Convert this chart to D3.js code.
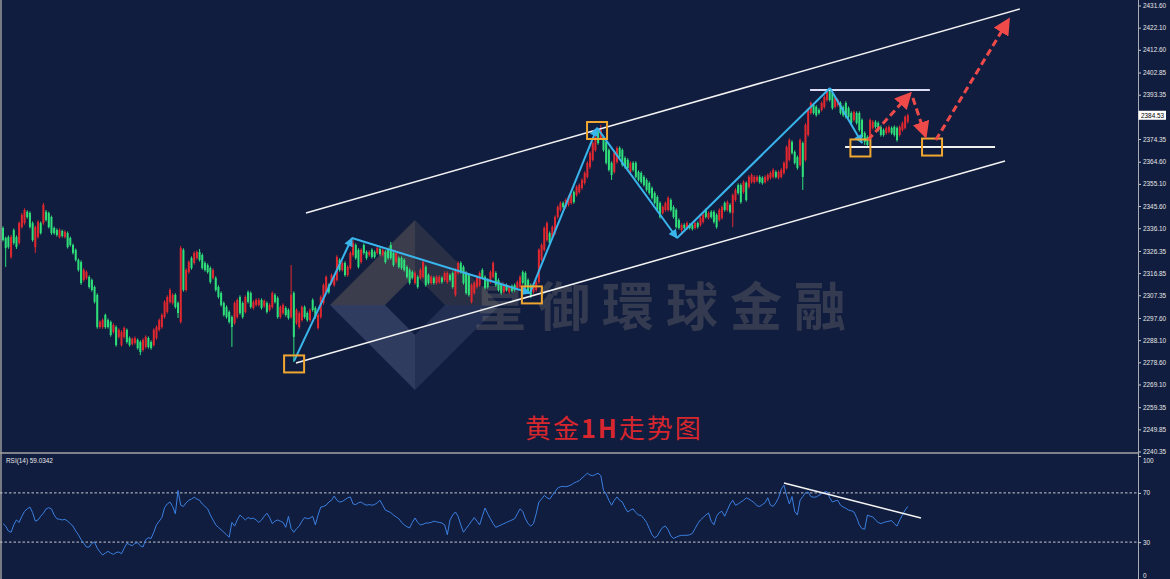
<!DOCTYPE html>
<html><head><meta charset="utf-8">
<script src="https://cdn.jsdelivr.net/npm/d3@7"></script>
<style>
html,body{margin:0;padding:0;background:#111d3f;overflow:hidden}
svg{display:block}
</style></head><body>
<svg id="c" width="1170" height="579"></svg>
<script>
// ---------------- DATA ----------------
const open = [
2336.2,2331.9,2332.3,2323.8,2335.3,2332.3,2329.8,2336.6,2338.3,2343.1,
2342.6,2338.3,2328.0,2332.3,2338.3,2338.3,2343.1,2342.6,2340.9,2336.2,
2335.3,2332.3,2334.9,2332.3,2334.0,2331.9,2328.9,2326.8,2322.5,2321.6,
2313.9,2314.8,2315.2,2313.9,2310.9,2307.5,2293.7,2293.7,2298.9,2296.7,
2295.9,2291.6,2293.7,2289.5,2286.0,2289.5,2292.5,2289.0,2286.5,2286.9,
2288.2,2287.3,2283.9,2285.2,2289.0,2287.3,2286.0,2289.0,2292.5,2293.7,
2298.0,2300.2,2304.5,2304.0,2307.5,2304.0,2295.9,2326.8,2309.6,2317.3,
2323.3,2321.2,2323.3,2325.9,2324.6,2321.2,2320.3,2319.0,2314.8,2314.8,
2310.9,2308.3,2304.0,2302.3,2300.2,2298.0,2295.4,2298.0,2306.6,2304.0,
2300.2,2308.7,2308.3,2301.9,2303.2,2303.2,2305.3,2302.7,2304.0,2301.0,
2302.3,2307.5,2306.2,2298.0,2299.7,2301.9,2301.0,2298.0,2308.3,2295.4,
2293.7,2296.7,2302.3,2299.7,2296.7,2305.3,2301.9,2293.3,2298.0,2304.0,
2308.7,2311.7,2312.6,2311.7,2313.9,2322.5,2318.2,2321.2,2316.0,2319.0,
2324.6,2328.9,2326.8,2321.6,2328.9,2325.9,2324.6,2326.8,2325.9,2325.5,
2327.2,2324.6,2325.9,2326.8,2328.9,2325.5,2321.6,2323.3,2323.3,2322.5,
2319.5,2318.2,2317.3,2312.6,2315.2,2314.8,2315.2,2319.5,2316.0,2312.6,
2314.8,2312.6,2313.0,2314.8,2313.9,2313.0,2316.0,2316.9,2307.5,2316.9,
2321.2,2319.5,2316.9,2316.0,2304.5,2308.3,2310.9,2311.7,2318.2,2315.2,
2313.9,2313.0,2315.2,2316.9,2313.9,2311.7,2308.7,2311.7,2308.7,2311.3,
2311.7,2310.5,2310.9,2317.3,2316.9,2313.9,2311.7,2308.7,2309.6,2313.0,
2322.5,2326.8,2331.0,2334.0,2332.3,2334.0,2340.9,2343.9,2346.9,2345.2,
2346.1,2346.9,2351.6,2350.3,2351.6,2353.3,2355.5,2358.1,2362.3,2365.4,
2369.6,2377.4,2374.8,2375.2,2373.1,2369.6,2364.1,2360.2,2364.5,2370.5,
2369.6,2366.2,2365.4,2360.2,2364.1,2364.1,2360.2,2359.8,2358.1,2356.8,
2355.5,2353.3,2351.2,2349.5,2346.9,2342.6,2343.9,2343.9,2348.2,2345.2,
2343.9,2339.6,2335.3,2337.5,2336.2,2337.5,2337.5,2336.2,2338.3,2337.5,
2338.8,2343.9,2340.5,2343.1,2343.1,2341.8,2339.6,2340.5,2346.9,2343.9,
2346.1,2342.6,2348.2,2354.6,2354.6,2351.6,2355.5,2353.8,2355.9,2355.9,
2356.4,2358.1,2357.7,2355.9,2356.8,2357.7,2358.1,2360.2,2357.7,2358.1,
2359.8,2361.9,2365.4,2373.1,2368.8,2366.6,2363.2,2372.6,2365.4,2376.1,
2385.5,2388.9,2388.1,2386.8,2386.8,2388.1,2391.1,2395.4,2394.1,2388.1,
2388.9,2389.8,2388.1,2389.8,2387.6,2385.5,2382.5,2385.5,2385.5,2382.5,
2376.9,2375.2,2375.2,2379.1,2381.7,2381.2,2379.5,2378.2,2376.9,2377.4,
2379.1,2379.5,2379.1,2376.1,2378.2,2379.1,2381.7];
const high = [
2336.9,2332.5,2333.0,2333.2,2336.0,2333.0,2339.0,2342.6,2344.6,2343.8,
2343.3,2339.0,2337.3,2339.5,2339.0,2346.9,2343.9,2343.2,2341.5,2336.8,
2336.0,2336.0,2335.5,2335.2,2334.7,2332.5,2329.5,2327.4,2323.1,2322.3,
2318.9,2318.0,2315.9,2314.5,2311.5,2308.2,2296.6,2297.4,2299.5,2297.4,
2296.5,2295.3,2294.4,2293.2,2292.3,2294.0,2293.1,2289.7,2289.3,2289.7,
2288.8,2288.0,2288.9,2290.2,2289.7,2288.0,2293.2,2294.4,2297.4,2299.6,
2305.2,2307.3,2310.3,2308.2,2308.2,2304.7,2328.5,2327.5,2318.9,2322.3,
2324.0,2326.2,2326.6,2327.2,2325.3,2321.9,2321.0,2319.7,2318.9,2315.5,
2311.6,2309.0,2304.7,2303.0,2300.9,2298.7,2304.7,2306.0,2307.3,2304.7,
2307.3,2309.4,2309.0,2305.2,2306.0,2306.1,2306.0,2305.6,2304.7,2303.9,
2309.0,2308.2,2306.9,2303.0,2303.9,2302.6,2301.7,2320.3,2309.0,2301.7,
2300.4,2303.0,2303.0,2300.4,2301.7,2306.0,2302.6,2299.6,2307.3,2312.4,
2315.9,2312.4,2316.7,2315.9,2324.5,2323.2,2321.9,2321.9,2320.2,2326.2,
2331.0,2329.6,2327.5,2327.5,2329.6,2326.6,2326.6,2327.5,2326.6,2328.3,
2327.9,2327.5,2326.6,2327.5,2330.2,2326.2,2326.2,2324.0,2324.0,2323.2,
2320.2,2318.9,2318.0,2317.6,2315.9,2318.9,2322.9,2320.2,2316.7,2315.9,
2315.5,2315.9,2315.9,2315.5,2317.6,2317.6,2316.7,2317.6,2318.9,2321.9,
2321.9,2320.2,2317.6,2316.7,2312.4,2313.3,2315.9,2317.6,2318.9,2315.9,
2314.6,2318.0,2321.9,2317.6,2314.6,2312.4,2312.4,2312.4,2311.6,2312.0,
2312.4,2313.7,2315.9,2318.0,2317.6,2314.6,2312.4,2311.6,2313.7,2327.5,
2329.6,2336.9,2339.0,2334.7,2337.3,2341.6,2345.9,2347.6,2347.6,2348.9,
2350.2,2351.0,2352.3,2354.5,2355.3,2357.5,2360.5,2364.8,2369.1,2373.3,
2375.9,2378.1,2380.4,2375.9,2373.8,2370.3,2364.8,2369.1,2371.2,2371.2,
2370.3,2366.9,2366.1,2364.8,2364.8,2364.8,2360.9,2360.5,2358.8,2357.5,
2356.2,2354.0,2351.9,2350.2,2347.6,2345.9,2347.6,2349.8,2348.9,2345.9,
2344.6,2340.3,2338.2,2338.2,2339.0,2338.2,2338.2,2339.0,2339.0,2341.2,
2342.5,2344.6,2343.3,2343.8,2343.8,2342.5,2344.6,2345.9,2347.6,2348.0,
2346.8,2351.0,2353.2,2355.3,2355.3,2356.6,2356.2,2358.8,2359.6,2358.8,
2358.8,2358.8,2358.4,2358.8,2359.6,2360.5,2361.8,2360.9,2360.9,2361.8,
2364.8,2371.6,2374.6,2373.8,2369.5,2367.3,2374.6,2373.3,2381.1,2387.5,
2390.5,2389.6,2388.8,2387.5,2390.5,2393.1,2395.2,2396.2,2394.8,2392.6,
2391.8,2390.5,2388.8,2390.5,2388.3,2386.2,2386.6,2386.2,2386.2,2383.2,
2377.6,2375.9,2383.2,2382.4,2382.4,2381.9,2380.2,2378.9,2379.8,2380.2,
2379.8,2380.2,2379.8,2380.2,2381.9,2384.5,2385.2];
const low = [
2330.4,2319.5,2327.3,2323.0,2329.0,2327.2,2329.0,2336.0,2337.6,2340.2,
2336.0,2330.3,2325.5,2331.6,2333.4,2337.6,2339.0,2336.0,2333.3,2333.3,
2332.5,2331.7,2332.1,2331.7,2327.4,2328.2,2324.8,2321.8,2317.5,2311.8,
2313.2,2314.1,2310.2,2308.9,2303.8,2293.0,2293.0,2293.0,2293.0,2293.1,
2289.6,2290.9,2285.3,2288.8,2285.3,2288.8,2286.6,2285.3,2285.8,2286.2,
2284.0,2281.7,2283.2,2284.5,2284.5,2284.0,2285.3,2288.3,2291.8,2293.0,
2297.3,2299.5,2303.8,2303.3,2301.6,2297.6,2295.2,2308.9,2308.9,2316.6,
2318.3,2320.5,2322.6,2321.8,2318.3,2317.5,2316.6,2312.3,2314.1,2308.9,
2305.9,2302.5,2298.2,2297.3,2295.2,2285.2,2294.7,2297.3,2299.0,2297.3,
2299.5,2303.8,2301.6,2301.2,2302.5,2302.6,2301.2,2302.0,2299.5,2300.3,
2301.6,2303.8,2297.3,2297.3,2299.0,2298.2,2296.9,2297.3,2278.7,2294.7,
2293.0,2296.0,2297.3,2296.0,2296.0,2300.3,2297.3,2292.6,2297.3,2303.3,
2308.0,2308.0,2311.9,2311.0,2313.2,2317.5,2317.5,2315.3,2315.3,2318.3,
2323.9,2322.6,2318.8,2320.9,2324.8,2322.6,2323.9,2323.1,2323.1,2324.8,
2324.3,2323.9,2320.9,2322.6,2322.6,2319.6,2320.9,2318.8,2318.3,2317.5,
2314.5,2311.9,2314.1,2311.9,2310.2,2314.1,2314.5,2311.0,2311.9,2311.9,
2311.9,2311.9,2312.3,2312.3,2313.2,2312.3,2313.2,2310.2,2306.8,2316.2,
2316.6,2311.9,2307.6,2306.8,2303.8,2307.6,2310.2,2311.0,2314.1,2309.8,
2310.2,2312.3,2314.5,2311.0,2308.9,2307.6,2308.0,2308.9,2308.0,2308.5,
2308.9,2309.8,2310.2,2311.9,2310.2,2308.0,2306.2,2308.0,2308.9,2312.3,
2321.8,2326.1,2330.3,2329.1,2331.6,2333.3,2340.2,2343.2,2344.5,2344.5,
2345.4,2346.2,2346.6,2349.6,2350.9,2352.6,2354.8,2357.4,2361.6,2364.7,
2368.9,2371.9,2374.1,2368.9,2363.4,2360.4,2356.8,2359.5,2363.8,2365.9,
2362.5,2361.6,2361.2,2359.5,2360.4,2357.4,2356.1,2355.2,2353.9,2351.8,
2350.5,2348.4,2346.2,2343.2,2340.2,2341.9,2343.2,2343.2,2343.2,2340.2,
2335.9,2335.5,2333.2,2335.5,2335.5,2335.5,2335.1,2335.5,2335.9,2336.8,
2338.1,2340.2,2339.8,2340.2,2338.1,2335.9,2338.9,2339.8,2343.2,2343.2,
2342.4,2336.6,2347.5,2350.5,2346.6,2350.9,2347.5,2353.1,2355.2,2355.2,
2355.7,2355.2,2354.8,2355.2,2356.1,2357.0,2357.4,2357.4,2357.0,2357.4,
2359.1,2361.2,2364.7,2367.7,2363.4,2361.2,2362.5,2352.5,2364.7,2375.4,
2384.8,2384.8,2383.9,2384.8,2386.1,2387.4,2390.4,2390.4,2386.9,2387.4,
2388.2,2384.8,2383.9,2383.1,2383.1,2380.5,2381.8,2380.5,2377.5,2374.5,
2371.8,2371.1,2374.5,2378.4,2378.8,2377.5,2375.4,2375.4,2376.2,2376.7,
2376.2,2375.4,2373.2,2375.4,2377.5,2378.4,2381.0];
const close = [
2331.0,2327.6,2328.0,2332.3,2329.8,2328.0,2338.3,2341.8,2343.9,2340.9,
2336.6,2331.0,2336.6,2338.8,2334.0,2346.1,2339.6,2336.6,2334.0,2334.0,
2333.2,2335.3,2332.8,2334.5,2328.0,2328.9,2325.5,2322.5,2318.2,2312.6,
2318.2,2317.3,2310.9,2309.6,2304.5,2293.7,2295.9,2296.7,2293.7,2293.7,
2290.3,2294.6,2286.0,2292.5,2291.6,2293.3,2287.3,2286.0,2288.6,2289.0,
2284.7,2283.0,2288.2,2289.5,2285.2,2284.7,2292.5,2293.7,2296.7,2298.9,
2304.5,2306.6,2309.6,2307.5,2302.3,2299.7,2327.6,2309.6,2318.2,2321.6,
2319.0,2325.5,2325.9,2322.5,2319.0,2318.2,2317.3,2313.0,2318.2,2309.6,
2306.6,2303.2,2298.9,2298.0,2295.9,2293.7,2304.0,2305.3,2299.7,2298.0,
2306.6,2304.5,2302.3,2304.5,2305.3,2305.3,2301.9,2304.9,2300.2,2303.2,
2308.3,2304.5,2298.0,2302.3,2303.2,2298.9,2297.6,2307.5,2289.5,2301.0,
2299.7,2302.3,2298.0,2296.7,2301.0,2301.0,2298.0,2298.9,2306.6,2311.7,
2315.2,2308.7,2316.0,2315.2,2323.8,2318.2,2321.2,2316.0,2319.5,2325.5,
2329.8,2323.3,2319.5,2326.8,2325.5,2323.3,2325.9,2323.8,2323.8,2327.6,
2325.0,2326.8,2321.6,2323.3,2323.3,2320.3,2325.5,2319.5,2319.0,2318.2,
2315.2,2312.6,2314.8,2316.9,2310.9,2318.2,2321.6,2311.7,2312.6,2315.2,
2312.6,2315.2,2315.2,2313.0,2316.9,2316.9,2313.9,2310.9,2318.2,2321.2,
2317.3,2312.6,2308.3,2307.5,2311.7,2312.6,2315.2,2316.9,2314.8,2310.5,
2310.9,2317.3,2321.2,2311.7,2309.6,2308.3,2311.7,2309.6,2310.9,2309.2,
2309.6,2313.0,2315.2,2312.6,2310.9,2308.7,2307.5,2310.9,2313.0,2326.8,
2328.9,2336.2,2338.3,2329.8,2336.6,2340.9,2345.2,2346.9,2345.2,2348.2,
2349.5,2350.3,2347.3,2353.8,2354.6,2356.8,2359.8,2364.1,2368.4,2372.6,
2375.2,2372.6,2378.2,2369.6,2364.1,2361.1,2358.9,2368.4,2370.5,2366.6,
2363.2,2362.3,2361.9,2364.1,2361.1,2358.1,2356.8,2355.9,2354.6,2352.5,
2351.2,2349.1,2346.9,2343.9,2340.9,2345.2,2346.9,2349.1,2343.9,2340.9,
2336.6,2336.2,2337.5,2336.2,2338.3,2336.2,2335.8,2338.3,2336.6,2340.5,
2341.8,2340.9,2342.6,2340.9,2338.8,2336.6,2343.9,2345.2,2343.9,2347.3,
2343.1,2350.3,2352.5,2351.2,2347.3,2355.9,2348.2,2358.1,2358.9,2358.1,
2358.1,2355.9,2355.5,2358.1,2358.9,2359.8,2361.1,2358.1,2360.2,2361.1,
2364.1,2370.9,2373.9,2368.4,2364.1,2361.9,2373.9,2358.1,2380.4,2386.8,
2389.8,2385.5,2384.6,2385.5,2389.8,2392.4,2394.5,2391.1,2387.6,2391.9,
2391.1,2385.5,2384.6,2383.8,2383.8,2381.2,2385.9,2381.2,2378.2,2375.2,
2373.1,2371.8,2382.5,2381.7,2379.5,2378.2,2376.1,2376.1,2379.1,2379.5,
2376.9,2376.1,2373.9,2379.5,2381.2,2383.8,2384.53];
const rsi = [
45,43,39,38,44,48,46,51,55,57,
58.5,54,47,48,51,53.5,57,58,57,52,
49,48.5,48,48.5,47,45,43,39,36,32,
29,26,26,29,30,25,22,19.5,21,22.5,
21,20,21.5,22,20.5,25,29,28,27,29,
29.5,27,26,32,33.5,33,38,44,47,50,
58,61,62.6,59,53,72,60,59,62,64,
65,66.5,65,64,61,59,57,52,48,44,
42,40,38,36,34,46,43,48,52,50,
48,50,49,49.5,48,46,48,51,53.5,50,
45,47,48,47,46,42,51,41,38,41,
43,47,50,49,49.5,51,44,52,58.5,59,
60,62.6,64,67.5,64,62.6,63,64.5,66,66.7,
61,60.5,62,62.6,61,60,60.5,60,60.5,62,
64,60,56,55,54,52,50.5,49,46,44,
42.5,41.5,46,49.6,46,44,44.5,45.5,45.5,46,
47,46.5,46,45.5,44,36,48,52,54.5,51,
44,38,41,44,47,50,47,44,51,57.7,
53,49,45,42,43,44,45,46,47,48,
49,53,57,55,49,45,43,45,53,62.6,
65,68,66,65,68,71,74,75,75.3,75,
75.6,76.5,78,79,80,82,84,86,84.5,84,
85,86,84,72,69,64,60,64,66.7,64,
62.6,58,54.5,56,57,54,52,51.7,49,46,
41,36,33.5,35,39,42,43,40,35,33,
34,35,35.5,35.5,35.5,36,37,41,45,48,
50,52,53.7,47,44,51,54,55,51,56,
61,64,60,61,62.6,64,66,65,63.5,62,
59.5,59,60.5,62,66,60,59,62,66,73,
76.4,68,61,67,55,52,64,67,70,70.7,
67,66.5,66.7,68,69.5,70.7,71,66,62.6,63.5,
64,60,58.5,57.5,56,55.5,54.5,50,44,41,
40.5,52,51,50.5,48,46,45,46,46.5,47,
47.5,45,43,48,52,56,59.03];

const priceTicks = [2431.60,2422.10,2412.60,2402.85,2393.35,2374.35,2364.60,2355.10,2345.60,2336.10,
                    2326.35,2316.85,2307.35,2297.60,2288.10,2278.60,2269.10,2259.35,2249.85,2240.35];
const priceDomain = [2240.35, 2431.60];
const lastPrice = 2384.53;
const rsiTicks = [100, 70, 30, 0];
const rsiLevels = [70, 30];
const rsiLabel = "RSI(14) 59.0342";
const titleParts = ["黄金", "1H", "走势图"];
const watermarkText = "皇御環球金融";

// annotations, in data coordinates: [bar index, price] (RSI trend: [bar index, rsi])
const channelUpper = [[112.5, 2342.6], [377.6, 2430.1]];
const channelLower = [[108.8, 2278.3], [372.1, 2364.9]];
const resistance  = [[299.7, 2395.4], [344.2, 2395.4]];
const support     = [[312.7, 2370.9], [368.4, 2370.9]];
const zigzag = [[108.1, 2279.2], [129.6, 2331.9], [195.7, 2308.3], [220.6, 2379.1],
                [250.3, 2331.9], [307.1, 2396.2], [319.0, 2372.6]];
const zigzagHeads = [true, true, true, true, false, true];
const boxes = [[108.1, 2277.9], [196.4, 2307.5], [220.6, 2378.0], [318.4, 2370.5], [345.0, 2370.9]];
const forecast = [
  [[321.2, 2373.9], [337.1, 2394.1]],
  [[337.9, 2391.9], [342.7, 2375.2]],
  [[346.4, 2373.9], [373.6, 2425.8]]];
const rsiTrend = [[290.0, 78], [340.9, 49.6]];

// ---------------- DRAWING ----------------
const W = 1170, H = 579, axisX = 1138;
const BG = '#111d3f', RED = '#e2282f', GREEN = '#2fe07a';
const N = Math.min(open.length, high.length, low.length, close.length);
const svg = d3.select('#c');
svg.append('rect').attr('width', W).attr('height', H).attr('fill', BG);

const x = d3.scaleLinear().domain([0, N - 1]).range([3, 907.8]);
const y = d3.scaleLinear().domain(priceDomain).range([451.5, 5.5]);
const yr = d3.scaleLinear().domain([0, 100]).range([579, 456]);

const defs = svg.append('defs');
defs.append('clipPath').attr('id', 'mainClip').append('rect')
  .attr('x', 0).attr('y', 0).attr('width', axisX).attr('height', 452);
defs.append('clipPath').attr('id', 'rsiClip').append('rect')
  .attr('x', 0).attr('y', 455).attr('width', axisX).attr('height', 124);
function marker(id, color, w, h) {
  defs.append('marker').attr('id', id).attr('viewBox', '0 0 10 10')
    .attr('refX', 9).attr('refY', 5).attr('markerUnits', 'userSpaceOnUse')
    .attr('markerWidth', w).attr('markerHeight', h).attr('orient', 'auto')
    .append('path').attr('d', 'M0,0 L10,5 L0,10 Z').attr('fill', color);
}
marker('blueHead', '#39b5ec', 10, 9);
marker('redHead', '#ef4a4a', 17, 17);

const g = svg.append('g').attr('clip-path', 'url(#mainClip)');

// watermark (decoration)
const wm = g.append('g');
const cx = 415, cy = 305, R = 85, r = 30;
const quads = [
  {p: [[cx - R, cy], [cx, cy - R], [cx, cy - r], [cx - r, cy]], f: 'rgba(170,148,110,0.28)'},
  {p: [[cx - R, cy], [cx, cy + R], [cx, cy + r], [cx - r, cy]], f: 'rgba(125,140,178,0.28)'},
  {p: [[cx + R, cy], [cx, cy + R], [cx, cy + r], [cx + r, cy]], f: 'rgba(125,140,178,0.18)'},
  {p: [[cx + R, cy], [cx, cy - R], [cx, cy - r], [cx + r, cy]], f: 'rgba(170,148,110,0.16)'}];
quads.forEach(q => wm.append('polygon').attr('points', q.p.map(d => d.join(',')).join(' ')).attr('fill', q.f));
wm.append('text').attr('x', 474).attr('y', 326).text(watermarkText)
  .attr('font-family', '"Noto Sans CJK TC","Noto Sans CJK SC",sans-serif')
  .attr('font-size', 52).attr('font-weight', 700).attr('letter-spacing', 12)
  .attr('fill', '#a59a88').attr('opacity', 0.24);

// candles
const candles = d3.range(N).map(i => ({i, o: open[i], h: high[i], l: low[i], c: close[i]}));
const col = d => d.c >= d.o ? RED : GREEN;
g.append('g').selectAll('line').data(candles).join('line')
  .attr('x1', d => x(d.i)).attr('x2', d => x(d.i))
  .attr('y1', d => y(d.h)).attr('y2', d => y(d.l))
  .attr('stroke', col).attr('stroke-width', 1);
g.append('g').selectAll('rect').data(candles).join('rect')
  .attr('x', d => x(d.i) - 1).attr('width', 2)
  .attr('y', d => y(Math.max(d.o, d.c)))
  .attr('height', d => Math.max(1, Math.abs(y(d.o) - y(d.c))))
  .attr('fill', col);

// annotations
const lg = d3.line().x(d => x(d[0])).y(d => y(d[1]));
g.append('path').attr('d', lg(channelUpper)).attr('stroke', '#f4f4f4').attr('stroke-width', 1.5).attr('fill', 'none');
g.append('path').attr('d', lg(channelLower)).attr('stroke', '#f4f4f4').attr('stroke-width', 1.5).attr('fill', 'none');
g.append('path').attr('d', lg(resistance)).attr('stroke', '#dcdcf4').attr('stroke-width', 2).attr('fill', 'none');
g.append('path').attr('d', lg(support)).attr('stroke', '#f0f0f0').attr('stroke-width', 2).attr('fill', 'none');
d3.pairs(zigzag).forEach(([a, b], k) => {
  g.append('path').attr('d', lg([a, b])).attr('stroke', '#39b5ec').attr('stroke-width', 2)
    .attr('fill', 'none').attr('marker-end', zigzagHeads[k] ? 'url(#blueHead)' : null);
});
g.selectAll('rect.box').data(boxes).join('rect').attr('class', 'box')
  .attr('x', d => x(d[0]) - 10).attr('y', d => y(d[1]) - 8.5)
  .attr('width', 20).attr('height', 17)
  .attr('fill', 'none').attr('stroke', '#f0a732').attr('stroke-width', 2);
forecast.forEach(seg => {
  g.append('path').attr('d', lg(seg)).attr('stroke', '#ef4a4a').attr('stroke-width', 3)
    .attr('stroke-dasharray', '7,4').attr('fill', 'none').attr('marker-end', 'url(#redHead)');
});

// title
const tt = svg.append('text').attr('x', 525).attr('y', 438)
  .attr('font-family', '"Noto Sans CJK SC",sans-serif').attr('font-size', 26)
  .attr('letter-spacing', 2).attr('fill', '#d7262d');
tt.append('tspan').text(titleParts[0]);
tt.append('tspan').text(titleParts[1]).attr('font-weight', 700).attr('font-size', 25);
tt.append('tspan').text(titleParts[2]);

// price axis
const FONT = '6.4px "Liberation Sans", Arial, sans-serif';
const ax = svg.append('g').attr('transform', `translate(${axisX},0)`)
  .call(d3.axisRight(y).tickValues(priceTicks).tickSize(3).tickPadding(2).tickFormat(d3.format('.2f')));
ax.select('.domain').remove();
ax.selectAll('line').attr('stroke', '#c8c8c8');
ax.selectAll('text').attr('fill', '#e6e6e6').style('font', FONT);
svg.append('line').attr('x1', axisX + 0.5).attr('x2', axisX + 0.5).attr('y1', 0).attr('y2', H)
  .attr('stroke', '#a8acb4').attr('stroke-width', 1);
svg.append('rect').attr('x', axisX + 0.5).attr('y', y(lastPrice) - 4.5).attr('width', 27.5).attr('height', 9).attr('fill', '#ffffff');
svg.append('text').attr('x', axisX + 3).attr('y', y(lastPrice) + 2.3).text(lastPrice.toFixed(2))
  .attr('fill', '#000').style('font', FONT);

// panel separator and left border
svg.append('line').attr('x1', 0).attr('x2', axisX).attr('y1', 453).attr('y2', 453)
  .attr('stroke', '#a4a4a4').attr('stroke-width', 1.5);
svg.append('line').attr('x1', 1).attr('x2', 1).attr('y1', 0).attr('y2', H)
  .attr('stroke', '#9a9a9a').attr('stroke-width', 1.5);

// RSI panel
const rg = svg.append('g').attr('clip-path', 'url(#rsiClip)');
rsiLevels.forEach(v => rg.append('line').attr('x1', 0).attr('x2', axisX)
  .attr('y1', yr(v)).attr('y2', yr(v)).attr('stroke', '#c4c8d2')
  .attr('stroke-dasharray', '2.5,2').attr('stroke-width', 1));
rg.append('path').datum(rsi.slice(0, N))
  .attr('d', d3.line().x((d, i) => x(i)).y(d => yr(d)))
  .attr('stroke', '#3a7fe0').attr('stroke-width', 1).attr('fill', 'none');
rg.append('path').attr('d', d3.line().x(d => x(d[0])).y(d => yr(d[1]))(rsiTrend))
  .attr('stroke', '#f4f4f4').attr('stroke-width', 1.5).attr('fill', 'none');
svg.append('text').attr('x', 6).attr('y', 463).text(rsiLabel).attr('fill', '#e8e8e8').style('font', FONT);
const rax = svg.append('g').attr('transform', `translate(${axisX},0)`)
  .call(d3.axisRight(yr).tickValues(rsiTicks).tickSize(3).tickPadding(2).tickFormat(d3.format('d')));
rax.select('.domain').remove();
rax.selectAll('line').attr('stroke', '#c8c8c8');
rax.selectAll('text').attr('fill', '#e6e6e6').style('font', FONT)
  .attr('dy', d => d === 100 ? '0.95em' : d === 0 ? '-0.3em' : '0.32em');
</script>
</body></html>
